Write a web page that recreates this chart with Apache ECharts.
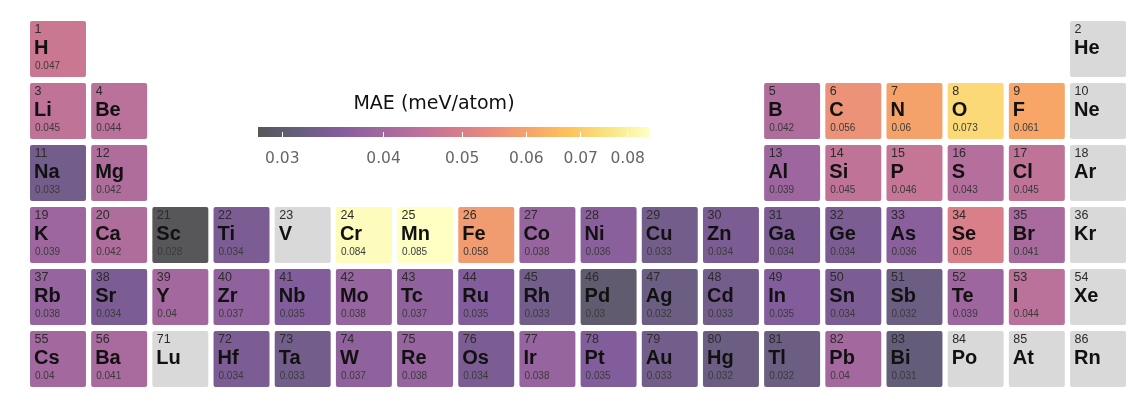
<!DOCTYPE html>
<html>
<head>
<meta charset="utf-8">
<script src="https://cdn.jsdelivr.net/npm/echarts@6/dist/echarts.min.js"></script>
<style>
  html, body { margin: 0; padding: 0; background: #ffffff; }
  #chart { width: 1142px; height: 410px; }
</style>
</head>
<body>
<div id="chart"></div>
<script>
// Elements shown in the table (periods 1-6, main group + d block, Lu in group 3)
const symbols = ['H','He','Li','Be','B','C','N','O','F','Ne','Na','Mg','Al','Si','P','S','Cl','Ar',
  'K','Ca','Sc','Ti','V','Cr','Mn','Fe','Co','Ni','Cu','Zn','Ga','Ge','As','Se','Br','Kr',
  'Rb','Sr','Y','Zr','Nb','Mo','Tc','Ru','Rh','Pd','Ag','Cd','In','Sn','Sb','Te','I','Xe',
  'Cs','Ba','Lu','Hf','Ta','W','Re','Os','Ir','Pt','Au','Hg','Tl','Pb','Bi','Po','At','Rn'];
const atomicNumbers = [1,2,3,4,5,6,7,8,9,10,11,12,13,14,15,16,17,18,
  19,20,21,22,23,24,25,26,27,28,29,30,31,32,33,34,35,36,
  37,38,39,40,41,42,43,44,45,46,47,48,49,50,51,52,53,54,
  55,56,71,72,73,74,75,76,77,78,79,80,81,82,83,84,85,86];
const groups = [1,18,1,2,13,14,15,16,17,18,1,2,13,14,15,16,17,18,
  1,2,3,4,5,6,7,8,9,10,11,12,13,14,15,16,17,18,
  1,2,3,4,5,6,7,8,9,10,11,12,13,14,15,16,17,18,
  1,2,3,4,5,6,7,8,9,10,11,12,13,14,15,16,17,18];
const periods = [1,1,2,2,2,2,2,2,2,2,3,3,3,3,3,3,3,3,
  4,4,4,4,4,4,4,4,4,4,4,4,4,4,4,4,4,4,
  5,5,5,5,5,5,5,5,5,5,5,5,5,5,5,5,5,5,
  6,6,6,6,6,6,6,6,6,6,6,6,6,6,6,6,6,6];
// Mean absolute error per element, null = no data
const mae = [0.047,null,0.045,0.044,0.042,0.056,0.06,0.073,0.061,null,
  0.033,0.042,0.039,0.045,0.046,0.043,0.045,null,
  0.039,0.042,0.028,0.034,null,0.084,0.085,0.058,0.038,0.036,0.033,0.034,0.034,0.034,0.036,0.05,0.041,null,
  0.038,0.034,0.04,0.037,0.035,0.038,0.037,0.035,0.033,0.03,0.032,0.033,0.035,0.034,0.032,0.039,0.044,null,
  0.04,0.041,null,0.034,0.033,0.037,0.038,0.034,0.038,0.035,0.033,0.032,0.032,0.04,0.031,null,null,null];

const colorbarTicks = [0.03, 0.04, 0.05, 0.06, 0.07, 0.08];
const colorbarTitle = 'MAE (meV/atom)';

// Inferno colour map, washed toward white (semi-transparent fill)
const INFERNO = ['#000004','#160b39','#420a68','#6a176e','#932667','#bc3754',
                 '#dd513a','#f37819','#fca50a','#f6d746','#fcffa4'];
const ALPHA = 0.66;
function washed(hex) {
  const n = parseInt(hex.slice(1), 16);
  const f = c => Math.round(c * ALPHA + 255 * (1 - ALPHA));
  return 'rgb(' + f((n >> 16) & 255) + ',' + f((n >> 8) & 255) + ',' + f(n & 255) + ')';
}
const palette = INFERNO.map(washed);

// Colour scale is logarithmic between the smallest and largest MAE
const measuredVals = mae.filter(v => v != null);
const lnMin = Math.log(Math.min(...measuredVals));
const lnMax = Math.log(Math.max(...measuredVals));

const colCats = Array.from({ length: 18 }, (_, i) => String(i + 1));
const rowCats = Array.from({ length: 6 }, (_, i) => String(i + 1));

const withData = [], withoutData = [];
symbols.forEach((s, i) => {
  const rec = { sym: s, num: atomicNumbers[i], v: mae[i] };
  if (mae[i] != null) {
    withData.push({ value: [groups[i] - 1, periods[i] - 1, Math.log(mae[i])], rec });
  } else {
    withoutData.push({ value: [groups[i] - 1, periods[i] - 1], rec });
  }
});

const CELL_FONT = 'Liberation Sans';

function makeCellRenderer(list, fixedFill) {
  return function (params, api) {
    const rec = list[params.dataIndex].rec;
    const c = api.coord([api.value(0), api.value(1)]);
    const sz = api.size([1, 1]);
    const w = sz[0] - 5.2, h = sz[1] - 6;
    const x = c[0] - w / 2, y = c[1] - h / 2;
    const children = [
      { type: 'rect', shape: { x: x, y: y, width: w, height: h, r: 2 },
        style: { fill: fixedFill || api.visual('color') } },
      { type: 'text', style: { text: String(rec.num), x: x + 4.5, y: y + 8.5,
        fontFamily: CELL_FONT, fontSize: 12.5, fontWeight: 'normal',
        fill: '#2b2b2b', verticalAlign: 'middle', align: 'left' } },
      { type: 'text', style: { text: rec.sym, x: x + 4, y: y + 27.5,
        fontFamily: CELL_FONT, fontSize: 20, fontWeight: 'bold',
        fill: '#111111', verticalAlign: 'middle', align: 'left' } }
    ];
    if (rec.v != null) {
      children.push({ type: 'text', style: { text: String(rec.v), x: x + 5, y: y + 45.5,
        fontFamily: CELL_FONT, fontSize: 10, fontWeight: 'normal',
        fill: '#3a3a3a', verticalAlign: 'middle', align: 'left' } });
    }
    return { type: 'group', children: children };
  };
}

const chart = echarts.init(document.getElementById('chart'), null, { renderer: 'canvas' });

chart.setOption({
  backgroundColor: '#ffffff',
  animation: false,
  grid: [
    { left: 27.4, right: 13.4, top: 18, bottom: 20 },
    { left: 258, width: 391, top: 127, height: 10 }
  ],
  xAxis: [
    { type: 'category', gridIndex: 0, data: colCats, show: false },
    { type: 'value', gridIndex: 1, min: lnMin, max: lnMax, z: 5,
      axisLine: { show: false }, splitLine: { show: false },
      axisTick: { show: true, inside: true, length: 5,
        lineStyle: { color: '#ffffff', width: 1 },
        customValues: colorbarTicks.map(Math.log) },
      axisLabel: { customValues: colorbarTicks.map(Math.log),
        formatter: v => Math.exp(v).toFixed(2),
        color: '#666666', fontSize: 15.5, margin: 14, fontFamily: 'DejaVu Sans' } }
  ],
  yAxis: [
    { type: 'category', gridIndex: 0, data: rowCats, inverse: true, show: false },
    { type: 'value', gridIndex: 1, min: 0, max: 1, show: false }
  ],
  visualMap: {
    show: false, type: 'continuous', seriesIndex: 0, dimension: 2,
    min: lnMin, max: lnMax, inRange: { color: palette }
  },
  graphic: [
    { type: 'text', x: 434, y: 104, silent: true,
      style: { text: colorbarTitle, fontFamily: 'DejaVu Sans', fontSize: 19, fill: '#111111',
        align: 'center', verticalAlign: 'middle' } }
  ],
  series: [
    { type: 'custom', name: 'MAE', xAxisIndex: 0, yAxisIndex: 0,
      encode: { x: 0, y: 1 }, data: withData,
      renderItem: makeCellRenderer(withData, null) },
    { type: 'custom', name: 'no data', xAxisIndex: 0, yAxisIndex: 0,
      encode: { x: 0, y: 1 }, data: withoutData,
      renderItem: makeCellRenderer(withoutData, '#d9d9d9') },
    { type: 'custom', name: 'colorbar', xAxisIndex: 1, yAxisIndex: 1, silent: true,
      encode: { x: [0, 1] }, data: [[lnMin, lnMax]],
      renderItem: function (params, api) {
        const p0 = api.coord([api.value(0), 1]);
        const p1 = api.coord([api.value(1), 0]);
        return { type: 'rect',
          shape: { x: p0[0], y: p0[1], width: p1[0] - p0[0], height: p1[1] - p0[1] },
          style: { fill: new echarts.graphic.LinearGradient(0, 0, 1, 0,
            palette.map((col, i) => ({ offset: i / (palette.length - 1), color: col }))) } };
      } }
  ]
});
</script>
</body>
</html>
